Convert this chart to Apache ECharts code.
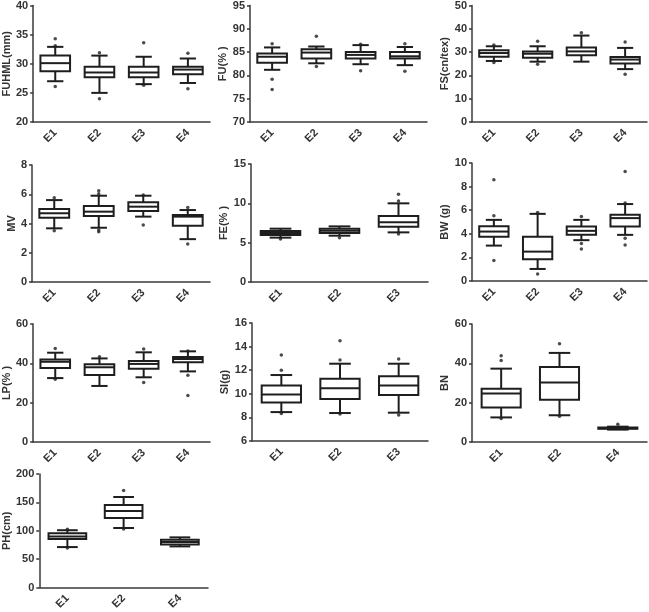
<!DOCTYPE html>
<html>
<head>
<meta charset="utf-8">
<script src="https://cdn.jsdelivr.net/npm/echarts@6/dist/echarts.min.js"></script>
<style>
  html, body { margin: 0; padding: 0; background: #fff; }
  #chart { width: 649px; height: 612px; }
</style>
</head>
<body>
<div id="chart"></div>
<script>
// categories
var cats4 = ['E1', 'E2', 'E3', 'E4'];
var cats123 = ['E1', 'E2', 'E3'];
var cats124 = ['E1', 'E2', 'E4'];

// box values: [lower whisker, Q1, median, Q3, upper whisker]
var fuhmlBox = [[27.0, 28.7, 30.1, 31.4, 32.9], [25.0, 27.7, 28.5, 29.5, 31.4], [26.5, 27.7, 28.5, 29.5, 31.2], [26.7, 28.2, 29.0, 29.5, 30.9]];
var fuhmlOut = [[0, 34.3], [0, 33.1], [0, 26.1], [1, 31.9], [1, 24.0], [2, 33.6], [2, 26.3], [3, 31.8], [3, 25.7]];

var fuBox = [[81.2, 82.7, 84.0, 84.7, 86.0], [82.6, 83.6, 84.9, 85.6, 86.2], [82.4, 83.6, 84.4, 85.0, 86.5], [82.2, 83.6, 84.1, 85.0, 86.1]];
var fuOut = [[0, 86.8], [0, 79.2], [0, 77.0], [1, 88.4], [1, 81.9], [2, 86.7], [2, 81.0], [3, 86.8], [3, 80.9]];

var fsBox = [[26.2, 28.0, 29.6, 30.8, 32.5], [25.9, 27.6, 29.3, 30.3, 32.5], [25.9, 28.6, 30.3, 32.0, 37.1], [22.7, 25.1, 26.8, 27.9, 31.8]];
var fsOut = [[0, 33.1], [0, 25.5], [1, 34.7], [1, 24.8], [2, 38.3], [3, 34.3], [3, 20.5]];

var mvBox = [[3.67, 4.40, 4.70, 4.99, 5.6], [3.71, 4.51, 4.81, 5.2, 5.9], [4.47, 4.85, 5.15, 5.45, 5.9], [2.93, 3.84, 4.47, 4.58, 4.92]];
var mvOut = [[0, 5.76], [0, 3.51], [1, 6.24], [1, 6.03], [1, 3.55], [1, 3.44], [2, 5.95], [2, 3.9], [3, 5.1], [3, 2.6]];

var feBox = [[5.64, 5.97, 6.23, 6.48, 6.78], [5.89, 6.23, 6.52, 6.78, 7.07], [6.31, 7.03, 7.58, 8.39, 10.0]];
var feOut = [[0, 5.47], [1, 5.64], [2, 11.14], [2, 10.3], [2, 6.1]];

var bwBox = [[3.0, 3.76, 4.19, 4.64, 5.18], [1.02, 1.84, 2.49, 3.76, 5.69], [3.46, 3.91, 4.25, 4.62, 5.18], [3.91, 4.62, 5.33, 5.61, 6.52]];
var bwOut = [[0, 8.58], [0, 5.52], [0, 1.73], [1, 5.8], [1, 0.6], [2, 5.47], [2, 3.17], [2, 2.72], [3, 9.29], [3, 6.6], [3, 3.63], [3, 3.06]];

var lpBox = [[32.5, 37.6, 40.8, 42.0, 45.4], [28.5, 34.1, 38.0, 39.5, 42.5], [32.9, 37.3, 39.7, 41.2, 45.6], [35.9, 40.5, 42.2, 43.2, 46.1]];
var lpOut = [[0, 47.6], [0, 31.9], [1, 43.4], [2, 47.3], [2, 30.2], [3, 46.3], [3, 33.9], [3, 23.7]];

var siBox = [[8.45, 9.26, 9.94, 10.71, 11.59], [8.37, 9.55, 10.48, 11.28, 12.55], [8.4, 9.89, 10.71, 11.48, 12.55]];
var siOut = [[0, 13.29], [0, 12.0], [0, 8.34], [1, 14.5], [1, 12.86], [1, 8.28], [2, 12.94], [2, 8.2]];

var bnBox = [[12.5, 17.6, 24.6, 27.1, 37.3], [13.6, 21.5, 30.3, 38.1, 45.3], [6.3, 6.7, 7.0, 7.4, 7.8]];
var bnOut = [[0, 43.9], [0, 41.5], [0, 11.9], [1, 50.0], [1, 13.1], [2, 9.0]];

var phBox = [[71.2, 85.5, 90.0, 95.7, 100.9], [104.8, 122.5, 135.0, 145.3, 159.5], [72.4, 75.8, 80.3, 84.3, 88.3]];
var phOut = [[0, 102.6], [0, 69.5], [1, 171], [1, 103]];

// panel setup (layout kept apart from the values)
var panels = [
  {name: 'FUHML(mm)', cats: cats4, box: fuhmlBox, out: fuhmlOut, min: 20, max: 40, step: 5, left: 32, top: 4, width: 178, height: 118, gap: 17},
  {name: 'FU(% )', cats: cats4, box: fuBox, out: fuOut, min: 70, max: 95, step: 5, left: 250, top: 5, width: 177, height: 117, gap: 17},
  {name: 'FS(cn/tex)', cats: cats4, box: fsBox, out: fsOut, min: 0, max: 50, step: 10, left: 472, top: 4, width: 175, height: 118, gap: 19},
  {name: 'MV', cats: cats4, box: mvBox, out: mvOut, min: 0, max: 8, step: 2, left: 32, top: 165, width: 178, height: 117, gap: 14},
  {name: 'FE(% )', cats: cats123, box: feBox, out: feOut, min: 0, max: 15, step: 5, left: 251, top: 164, width: 177, height: 118, gap: 14},
  {name: 'BW (g)', cats: cats4, box: bwBox, out: bwOut, min: 0, max: 10, step: 2, left: 472, top: 163, width: 175, height: 118, gap: 17},
  {name: 'LP(% )', cats: cats4, box: lpBox, out: lpOut, min: 0, max: 60, step: 20, left: 32, top: 324, width: 178, height: 118, gap: 18},
  {name: 'SI(g)', cats: cats123, box: siBox, out: siOut, min: 6, max: 16, step: 2, left: 252, top: 323, width: 176, height: 118, gap: 17},
  {name: 'BN', cats: cats124, box: bnBox, out: bnOut, min: 0, max: 60, step: 20, left: 472, top: 324, width: 175, height: 118, gap: 19},
  {name: 'PH(cm)', cats: cats124, box: phBox, out: phOut, min: 0, max: 200, step: 50, left: 32, top: 474, width: 176, height: 117, gap: 22}
];

var ink = '#1e1e1e';
var axisInk = '#3a3a3a';
var font = 'Liberation Sans, Arial, sans-serif';

function renderBox(params, api) {
  var i = api.value(0);
  var lo = api.coord([i, api.value(1)]);
  var q1 = api.coord([i, api.value(2)]);
  var md = api.coord([i, api.value(3)]);
  var q3 = api.coord([i, api.value(4)]);
  var hi = api.coord([i, api.value(5)]);
  var bw = api.size([1, 0])[0] * 0.67;
  var cw = bw * 0.55;
  var cx = lo[0];
  var ls = {stroke: ink, lineWidth: 2, fill: null};
  return {
    type: 'group',
    children: [
      {type: 'line', shape: {x1: cx, y1: q3[1], x2: cx, y2: hi[1]}, style: ls},
      {type: 'line', shape: {x1: cx, y1: q1[1], x2: cx, y2: lo[1]}, style: ls},
      {type: 'line', shape: {x1: cx - cw / 2, y1: hi[1], x2: cx + cw / 2, y2: hi[1]}, style: ls},
      {type: 'line', shape: {x1: cx - cw / 2, y1: lo[1], x2: cx + cw / 2, y2: lo[1]}, style: ls},
      {type: 'rect', shape: {x: cx - bw / 2, y: q3[1], width: bw, height: q1[1] - q3[1]}, style: {stroke: ink, lineWidth: 2, fill: '#fff'}},
      {type: 'line', shape: {x1: cx - bw / 2, y1: md[1], x2: cx + bw / 2, y2: md[1]}, style: ls}
    ]
  };
}

var grids = [], xAxes = [], yAxes = [], series = [];
panels.forEach(function (p, k) {
  grids.push({left: p.left, top: p.top, width: p.width, height: p.height, containLabel: false});
  xAxes.push({
    type: 'category', gridIndex: k, data: p.cats, boundaryGap: true,
    axisLine: {lineStyle: {color: axisInk, width: 1.5}},
    axisTick: {alignWithLabel: true, length: 3, lineStyle: {color: axisInk, width: 1.5}},
    axisLabel: {rotate: 45, margin: 9, color: '#333', fontSize: 11, fontWeight: 'bold', fontFamily: font},
    splitLine: {show: false}
  });
  yAxes.push({
    type: 'value', gridIndex: k, min: p.min, max: p.max, interval: p.step,
    name: p.name, nameLocation: 'middle', nameGap: p.gap,
    nameTextStyle: {color: '#333', fontSize: 11, fontWeight: 'bold', fontFamily: font},
    axisLine: {show: true, lineStyle: {color: axisInk, width: 1.5}},
    axisTick: {show: true, length: 3, lineStyle: {color: axisInk, width: 1.5}},
    axisLabel: {margin: 5, color: '#333', fontSize: 11, fontWeight: 'bold', fontFamily: font},
    splitLine: {show: false}
  });
  series.push({
    type: 'custom', xAxisIndex: k, yAxisIndex: k,
    renderItem: renderBox,
    encode: {x: 0, y: [1, 2, 3, 4, 5]},
    data: p.box.map(function (b, i) { return [i].concat(b); }),
    silent: true, clip: false
  });
  series.push({
    type: 'scatter', xAxisIndex: k, yAxisIndex: k,
    data: p.out, symbol: 'circle', symbolSize: 3.5,
    itemStyle: {color: ink}, silent: true, z: 3
  });
});

var myChart = echarts.init(document.getElementById('chart'), null, {renderer: 'canvas'});
var option = {
  animation: false,
  backgroundColor: '#fff',
  grid: grids,
  xAxis: xAxes,
  yAxis: yAxes,
  series: series
};
option && myChart.setOption(option);
</script>
</body>
</html>
